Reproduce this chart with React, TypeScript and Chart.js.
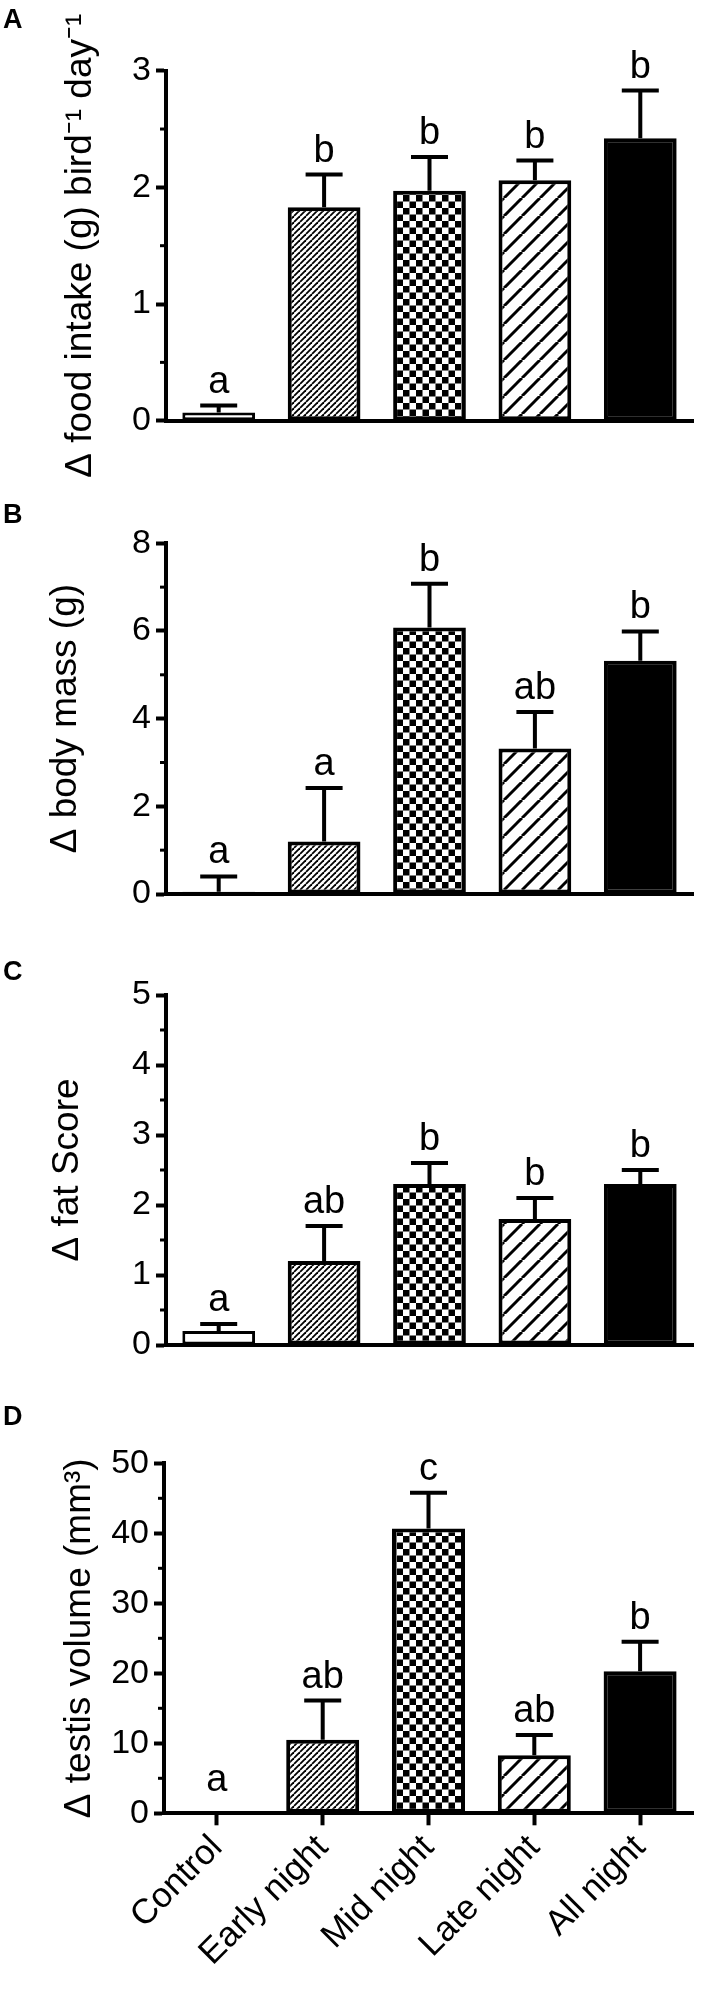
import React, { useEffect, useRef } from 'react';
import { Chart, registerables } from 'chart.js';

Chart.register(...registerables);

const FONT = '"Liberation Sans", Arial, sans-serif';

const groups = ['Control', 'Early night', 'Mid night', 'Late night', 'All night'];

// A: food intake
const foodMean = [0.07, 1.83, 1.97, 2.06, 2.42];
const foodErr = [0.06, 0.28, 0.29, 0.17, 0.41];
const foodLetters = ['a', 'b', 'b', 'b', 'b'];

// B: body mass
const massMean = [0.05, 1.2, 6.08, 3.32, 5.32];
const massErr = [0.35, 1.22, 1.0, 0.83, 0.67];
const massLetters = ['a', 'a', 'b', 'ab', 'b'];

// C: fat score
const fatMean = [0.2, 1.2, 2.3, 1.8, 2.3];
const fatErr = [0.1, 0.5, 0.3, 0.3, 0.2];
const fatLetters = ['a', 'ab', 'b', 'b', 'b'];

// D: testis volume
const testisMean = [0.2, 10.5, 40.7, 8.3, 20.3];
const testisErr = [0, 5.6, 5.1, 2.9, 4.2];
const testisLetters = ['a', 'ab', 'c', 'ab', 'b'];

type PanelProps = {
  tag: string;
  title: string;
  means: number[];
  errs: number[];
  letters: string[];
  max: number;
  step: number;
  minor: number;
  top: number;
  height: number;
  areaTop: number;
  areaBottom: number;
  left: number;
  titlePad: number;
  tagBaseline: number;
  showX: boolean;
};

// fills for the five groups: open, fine hatch, checker, wide hatch, solid
function makeFills(): (string | CanvasPattern)[] {
  const hatch = (p: number, w: number) => {
    const c = document.createElement('canvas');
    c.width = p;
    c.height = p;
    const g = c.getContext('2d')!;
    g.fillStyle = '#fff';
    g.fillRect(0, 0, p, p);
    g.strokeStyle = '#000';
    g.lineWidth = w;
    for (let k = -1; k <= 1; k++) {
      g.beginPath();
      g.moveTo(k * p, p);
      g.lineTo(k * p + p, 0);
      g.stroke();
    }
    return g.createPattern(c, 'repeat')!;
  };
  const checker = (s: number) => {
    const c = document.createElement('canvas');
    c.width = s * 2;
    c.height = s * 2;
    const g = c.getContext('2d')!;
    g.fillStyle = '#fff';
    g.fillRect(0, 0, s * 2, s * 2);
    g.fillStyle = '#000';
    g.fillRect(0, 0, s, s);
    g.fillRect(s, s, s, s);
    return g.createPattern(c, 'repeat')!;
  };
  return ['#fff', hatch(6, 1.8), checker(6.5), hatch(18, 3), '#000'];
}

const Panel: React.FC<PanelProps> = (p) => {
  const canvasRef = useRef<HTMLCanvasElement | null>(null);

  useEffect(() => {
    const canvas = canvasRef.current;
    if (!canvas) return;

    const extras = {
      id: 'extras',
      afterDatasetsDraw(chart: Chart) {
        const { ctx, chartArea } = chart;
        const x = chart.scales.x;
        const y = chart.scales.y;
        ctx.save();
        ctx.strokeStyle = '#000';
        ctx.fillStyle = '#000';
        ctx.lineWidth = 4;
        ctx.font = `38px ${FONT}`;
        ctx.textAlign = 'center';
        ctx.textBaseline = 'alphabetic';
        p.means.forEach((m, i) => {
          const cx = x.getPixelForValue(i);
          const y0 = y.getPixelForValue(m);
          const y1 = y.getPixelForValue(m + p.errs[i]);
          if (p.errs[i] > 0) {
            ctx.beginPath();
            ctx.moveTo(cx, y0);
            ctx.lineTo(cx, y1);
            ctx.moveTo(cx - 18.5, y1);
            ctx.lineTo(cx + 18.5, y1);
            ctx.stroke();
          }
          ctx.fillText(p.letters[i], cx, Math.min(y1 - 13, chartArea.bottom - 22));
        });
        // minor ticks on the y axis
        ctx.lineWidth = 3;
        for (let v = p.minor; v < p.max; v += p.step) {
          const py = y.getPixelForValue(v);
          ctx.beginPath();
          ctx.moveTo(chartArea.left - 6, py);
          ctx.lineTo(chartArea.left, py);
          ctx.stroke();
        }
        // panel tag
        ctx.font = `bold 27px ${FONT}`;
        ctx.textAlign = 'left';
        ctx.fillText(p.tag, 3, p.tagBaseline - p.top);
        ctx.restore();
      },
    };

    const chart = new Chart(canvas, {
      type: 'bar',
      data: {
        labels: groups,
        datasets: [
          {
            data: p.means,
            backgroundColor: makeFills() as any,
            borderColor: '#000',
            borderWidth: [3, 4, 4, 4, 4],
            borderSkipped: false,
            barPercentage: 0.69,
            categoryPercentage: 1,
          },
        ],
      },
      options: {
        responsive: false,
        animation: false,
        layout: { padding: { top: p.areaTop - p.top, right: 11, left: 0, bottom: 0 } },
        plugins: { legend: { display: false }, tooltip: { enabled: false } },
        scales: {
          x: {
            offset: true,
            grid: {
              display: p.showX,
              offset: false,
              drawOnChartArea: false,
              drawTicks: true,
              tickLength: 12,
              tickWidth: 4,
              tickColor: '#000',
            },
            border: { display: true, color: '#000', width: 4 },
            ticks: {
              display: p.showX,
              autoSkip: false,
              minRotation: 45,
              maxRotation: 45,
              padding: 2,
              color: '#000',
              font: { family: FONT, size: 35 },
            },
            afterFit: (s: any) => {
              s.height = p.top + p.height - p.areaBottom;
            },
          },
          y: {
            min: 0,
            max: p.max,
            ticks: { stepSize: p.step, padding: 5, color: '#000', font: { family: FONT, size: 34 } },
            grid: {
              display: true,
              drawOnChartArea: false,
              drawTicks: true,
              tickLength: 10,
              tickWidth: 4,
              tickColor: '#000',
            },
            border: { display: true, color: '#000', width: 4 },
            title: {
              display: true,
              text: p.title,
              color: '#000',
              font: { family: FONT, size: 37 },
              padding: { top: p.titlePad, bottom: 0 },
            },
            afterFit: (s: any) => {
              s.width = p.left;
            },
          },
        },
      },
      plugins: [extras],
    } as any);

    return () => chart.destroy();
  }, [p]);

  return (
    <canvas
      ref={canvasRef}
      width={704}
      height={p.height}
      style={{ position: 'absolute', left: 0, top: p.top, width: 704, height: p.height }}
    />
  );
};

const panels: PanelProps[] = [
  {
    tag: 'A', title: 'Δ food intake (g) bird⁻¹ day⁻¹', means: foodMean, errs: foodErr, letters: foodLetters,
    max: 3, step: 1, minor: 0.5, top: 0, height: 500, areaTop: 70.7, areaBottom: 420.7, left: 166,
    titlePad: 59, tagBaseline: 28, showX: false,
  },
  {
    tag: 'B', title: 'Δ body mass (g)', means: massMean, errs: massErr, letters: massLetters,
    max: 8, step: 2, minor: 1, top: 440, height: 500, areaTop: 543.3, areaBottom: 894, left: 166,
    titlePad: 44, tagBaseline: 523, showX: false,
  },
  {
    tag: 'C', title: 'Δ fat Score', means: fatMean, errs: fatErr, letters: fatLetters,
    max: 5, step: 1, minor: 0.5, top: 900, height: 480, areaTop: 995, areaBottom: 1345, left: 166,
    titlePad: 46, tagBaseline: 980, showX: false,
  },
  {
    tag: 'D', title: 'Δ testis volume (mm³)', means: testisMean, errs: testisErr, letters: testisLetters,
    max: 50, step: 10, minor: 5, top: 1380, height: 615, areaTop: 1463.3, areaBottom: 1813.3, left: 164,
    titlePad: 58, tagBaseline: 1425, showX: true,
  },
];

export default function App() {
  return (
    <div style={{ position: 'absolute', left: 0, top: 0, width: 704, height: 1995, background: '#fff' }}>
      {panels.map((pp) => (
        <Panel key={pp.tag} {...pp} />
      ))}
    </div>
  );
}
